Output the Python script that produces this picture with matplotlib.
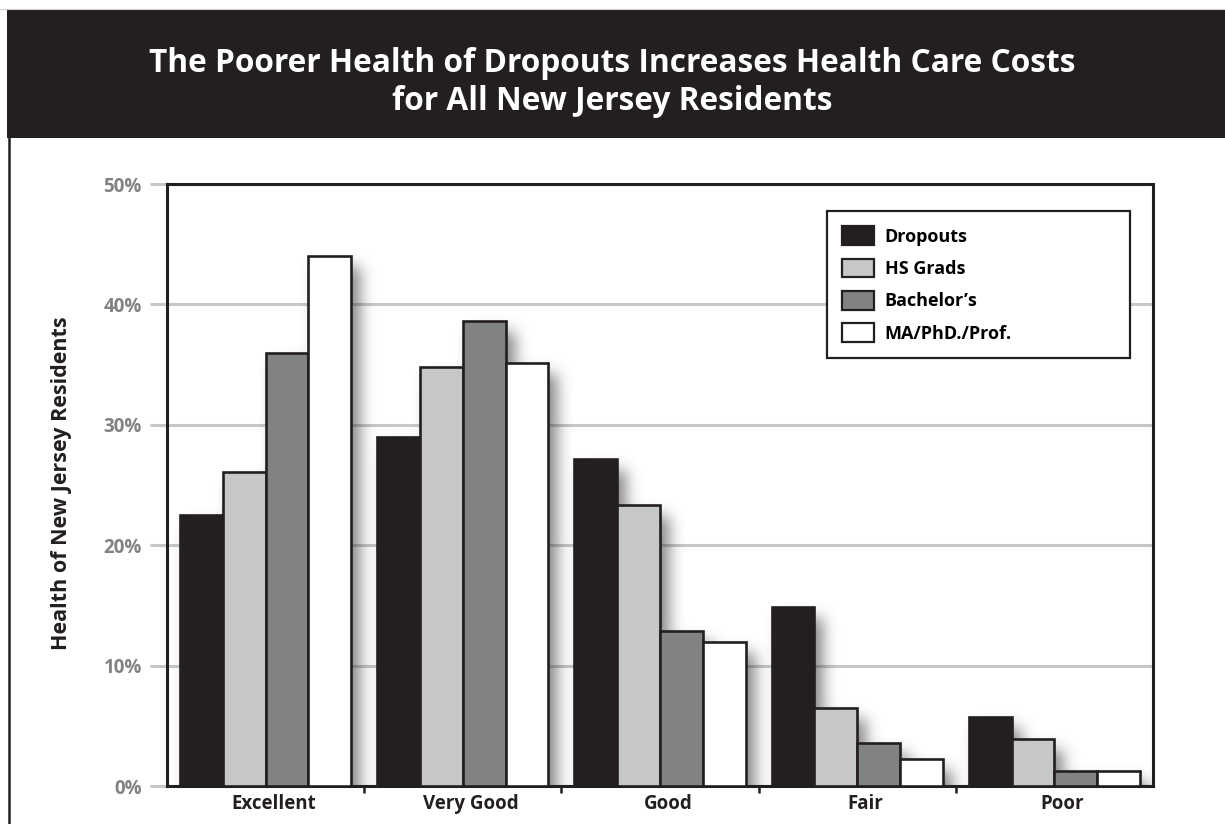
import numpy as np
import matplotlib
matplotlib.use("Agg")
import matplotlib.pyplot as plt
import matplotlib.transforms as mtransforms
from matplotlib.patches import Rectangle, Patch
from matplotlib.lines import Line2D

# ---- data -------------------------------------------------------------
categories = ["Excellent", "Very Good", "Good", "Fair", "Poor"]
series_names = ["Dropouts", "HS Grads", "Bachelor\u2019s", "MA/PhD./Prof."]
dropouts = [22.5, 29.0, 27.2, 14.9, 5.7]
hs_grads = [26.1, 34.8, 23.3, 6.5, 3.9]
bachelors = [36.0, 38.6, 12.9, 3.6, 1.25]
graduate = [44.0, 35.1, 12.0, 2.25, 1.25]
y_ticks = [0, 10, 20, 30, 40, 50]
y_tick_labels = ["0%", "10%", "20%", "30%", "40%", "50%"]
title_lines = ["The Poorer Health of Dropouts Increases Health Care Costs",
               "for All New Jersey Residents"]
y_title = "Health of New Jersey Residents"

# ---- style ------------------------------------------------------------
INK = "#231f20"
GRID = "#c6c7c9"
TICK_GRAY = "#808284"
fills = [INK, "#c6c7c9", "#808284", "#ffffff"]
plt.rcParams["font.family"] = ["Open Sans", "DejaVu Sans"]
plt.rcParams["font.weight"] = "bold"

FW, FH = 1225, 824
fig = plt.figure(figsize=(FW / 100, FH / 100), dpi=100)
fig.patch.set_facecolor("white")

# header band and frame line
fig.add_artist(Line2D([0, 1], [1 - 9 / FH] * 2, transform=fig.transFigure,
                      color="#cfcfcf", lw=0.8))
fig.add_artist(Rectangle((7 / FW, 1 - 138 / FH), 1 - 7 / FW, 128 / FH,
                         transform=fig.transFigure, facecolor=INK,
                         edgecolor="none"))
fig.add_artist(Line2D([8.5 / FW] * 2, [0, 1 - 138 / FH],
                      transform=fig.transFigure, color=INK, lw=1.8))
fig.text(0.5, 1 - 72 / FH, title_lines[0], color="white", fontsize=22.8,
         fontweight="bold", ha="center", va="baseline")
fig.text(0.5, 1 - 110 / FH, title_lines[1], color="white", fontsize=22.8,
         fontweight="bold", ha="center", va="baseline")

# ---- axes -------------------------------------------------------------
ax_l, ax_r, ax_t, ax_b = 167, 1153, 184, 786
ax = fig.add_axes([ax_l / FW, 1 - ax_b / FH, (ax_r - ax_l) / FW,
                   (ax_b - ax_t) / FH])
xmin, xmax, ymin, ymax = -0.5, len(categories) - 0.5, 0, 50

series = [dropouts, hs_grads, bachelors, graduate]
bw = 0.217
offsets = [(-1.5 + k) * bw for k in range(4)]
x = np.arange(len(categories))

for vals, off, col in zip(series, offsets, fills):
    ax.bar(x + off, vals, width=bw, color=col, edgecolor=INK,
           linewidth=1.9, zorder=3)

# soft drop shadow behind the bars
W, H = ax_r - ax_l, ax_b - ax_t
pad = 50
px_x = W / (xmax - xmin)
px_y = H / (ymax - ymin)
dx_px, dy_px, sigma = 9, 11, 7.5
mask = np.zeros((H + 2 * pad, W + 2 * pad))
for vals, off in zip(series, offsets):
    for i, v in enumerate(vals):
        c0 = (x[i] + off - bw / 2 - xmin) * px_x + dx_px + pad
        c1 = c0 + bw * px_x
        r1 = (v - ymin) * px_y - dy_px + pad
        mask[0:int(round(r1)), int(round(c0)):int(round(c1))] = 1.0
kx = np.arange(-int(3 * sigma), int(3 * sigma) + 1)
kern = np.exp(-kx ** 2 / (2 * sigma ** 2))
kern /= kern.sum()
blur = np.apply_along_axis(lambda r: np.convolve(r, kern, mode="same"), 1, mask)
blur = np.apply_along_axis(lambda c: np.convolve(c, kern, mode="same"), 0, blur)
rgba = np.zeros(blur.shape + (4,))
rgba[..., :3] = matplotlib.colors.to_rgb(INK)
rgba[..., 3] = blur * 0.55
ax.imshow(rgba, origin="lower", aspect="auto", interpolation="bilinear",
          extent=(xmin - pad / px_x, xmax + pad / px_x,
                  ymin - pad / px_y, ymax + pad / px_y), zorder=2)

ax.set_xlim(xmin, xmax)
ax.set_ylim(ymin, ymax)

# grid and y ticks
ax.set_yticks(y_ticks)
ax.set_yticklabels(y_tick_labels, color=TICK_GRAY, fontsize=13.5,
                   fontweight="bold")
ax.yaxis.grid(True, color=GRID, lw=2.2, zorder=0)
ax.set_axisbelow(True)
ax.tick_params(axis="y", length=12.2, width=2.2, color=GRID, pad=6)
for t in (ax.yaxis.get_major_ticks()[0], ax.yaxis.get_major_ticks()[-1]):
    t.tick1line.set_color(INK)

# x ticks: labels at category centres, marks at group boundaries
ax.set_xticks(x)
ax.set_xticklabels(categories, fontsize=13.5, fontweight="bold", color=INK)
ax.tick_params(axis="x", which="major", length=0, pad=6)
shift = mtransforms.ScaledTranslation(8 / 100, 0, fig.dpi_scale_trans)
for lab in ax.get_xticklabels():
    lab.set_transform(lab.get_transform() + shift)
ax.set_xticks(x[:-1] + 0.5, minor=True)
ax.tick_params(axis="x", which="minor", length=5, width=1.8, color=INK,
               direction="out")

for sp in ax.spines.values():
    sp.set_color(INK)
    sp.set_linewidth(2.2)

fig.text(62 / FW, 1 - 483 / FH, y_title, rotation=90, fontsize=15.5,
         fontweight="bold", color=INK, ha="center", va="center")

# legend
handles = [Patch(facecolor=c, edgecolor=INK, linewidth=1.6) for c in fills]
leg = ax.legend(handles, series_names, loc="upper left",
                bbox_to_anchor=(827 / FW, 1 - 358 / FH, (1130 - 827) / FW,
                                (358 - 211) / FH),
                bbox_transform=fig.transFigure, mode="expand",
                borderaxespad=0, fancybox=False, framealpha=1,
                prop={"size": 13, "weight": "bold"},
                handlelength=1.75, handleheight=1.2, handletextpad=0.6,
                labelspacing=0.72, borderpad=0.85)
leg.get_frame().set_edgecolor(INK)
leg.get_frame().set_linewidth(1.6)
leg.set_zorder(5)

fig.savefig("out.png", dpi=100, facecolor="white")
